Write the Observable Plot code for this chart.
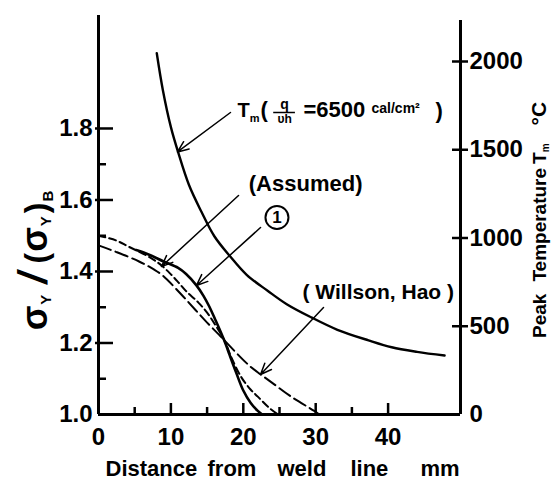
<!DOCTYPE html>
<html><head><meta charset="utf-8">
<script src="https://cdn.jsdelivr.net/npm/d3@7"></script>
<script src="https://cdn.jsdelivr.net/npm/@observablehq/plot@0.6"></script>
<style>body{margin:0;background:#fff} svg{display:block}</style>
</head><body><div id="chart"></div>
<script>
// ---- data ----
const solidX = [5.2, 7, 9, 11, 12.1, 13.5, 14.5, 15.3, 16.2, 17, 17.6, 18.1, 19, 20, 21, 22, 22.6];
const solidY = [1.46, 1.447, 1.428, 1.41, 1.393, 1.362, 1.332, 1.302, 1.262, 1.225, 1.195, 1.167, 1.118, 1.067, 1.033, 1.01, 1.0];
const assumedX = [0, 2.4, 4.2, 6.6, 8.4, 10, 11.1, 12.1, 13.8, 15, 16.3, 17.4, 18.3, 19.7, 21, 22, 23.5, 24.8];
const assumedY = [1.50, 1.487, 1.469, 1.445, 1.422, 1.392, 1.368, 1.345, 1.313, 1.285, 1.245, 1.207, 1.162, 1.105, 1.07, 1.05, 1.02, 1.0];
const willsonX = [0, 2.4, 5.6, 7.7, 8.9, 11.7, 13.5, 15, 16.7, 17.4, 20.7, 22.4, 23.9, 26.6, 29.8, 30.5];
const willsonY = [1.473, 1.455, 1.428, 1.405, 1.388, 1.33, 1.29, 1.257, 1.222, 1.207, 1.139, 1.112, 1.09, 1.05, 1.01, 1.0];
const tmX = [8.05, 8.9, 10, 11, 12.5, 14.2, 16, 18.2, 20.5, 23.4, 26, 29.4, 33, 37.3, 40.5, 44, 47.8];
const tmT = [2047, 1836, 1628, 1486, 1300, 1150, 1010, 895, 790, 700, 625, 550, 480, 420, 381, 355, 334];

const yTickLabels = [1.0, 1.2, 1.4, 1.6, 1.8];
const yTicksMajor = [1.2, 1.4, 1.6, 1.8];
const yTicksMinor = [1.1, 1.3, 1.5, 1.7];
const xTickLabels = [0, 10, 20, 30, 40];
const xTicksMajor = [10, 20, 30, 40];
const xTicksMinor = [5, 15, 25, 35];
const tTicks = [0, 500, 1000, 1500, 2000];

const xLabelWords = ["Distance", "from", "weld", "line", "mm"];
const xLabelAt = [0.97, 15.06, 24.72, 34.8, 44.47];

// ---- layout ----
const W = 553, H = 483, mL = 98, mR = 93, mT = 15, mB = 69;
const xDom = [0, 50], yDom = [1, 2.116];
const kx = (xDom[1] - xDom[0]) / (W - mL - mR);
const ky = (yDom[1] - yDom[0]) / (H - mT - mB);
const tPerPx = 2000 / 353;
const tToY = t => 1 + (t / tPerPx) * ky;

const solid = solidX.map((x, i) => ({x, y: solidY[i]}));
const assumed = assumedX.map((x, i) => ({x, y: assumedY[i]}));
const willson = willsonX.map((x, i) => ({x, y: willsonY[i]}));
const tm = tmX.map((x, i) => ({x, t: tmT[i]}));

// annotations (data units)
const arrows = [
  {x1: 18.23, y1: 1.8447, x2: 10.91, y2: 1.7343},
  {x1: 19.34, y1: 1.6126, x2: 8.70, y2: 1.414},
  {x1: 22.38, y1: 1.523, x2: 13.54, y2: 1.361},
  {x1: 31.08, y1: 1.299, x2: 22.38, y2: 1.112}
];
const notes = [
  {text: "TM(", x: 19.2, y: 1.8503, size: 21, anchor: "start"},
  {text: "q", x: 25.7, y: 1.8671, size: 14, anchor: "middle"},
  {text: "υh", x: 25.7, y: 1.8252, size: 12, anchor: "middle"},
  {text: "=6500", x: 28.3, y: 1.8531, size: 22, anchor: "start"},
  {text: "cal/cm²", x: 37.71, y: 1.8559, size: 14, anchor: "start"},
  {text: ")", x: 46.55, y: 1.8503, size: 22, anchor: "start"},
  {text: "(Assumed)", x: 36.46, y: 1.6462, size: 22, anchor: "end"},
  {text: "1", x: 24.65, y: 1.551, size: 17, anchor: "middle"},
  {text: "( Willson, Hao )", x: 28.18, y: 1.3413, size: 21, anchor: "start"}
];
const fracLine = [{y: 1.8447, x1: 24.2, x2: 27.2}];
const circle = [{x: 24.65, y: 1.551}];

const plot = Plot.plot({
  width: W, height: H,
  marginLeft: mL, marginRight: mR, marginTop: mT, marginBottom: mB,
  x: {domain: xDom, label: null},
  y: {domain: yDom, label: null},
  style: {fontFamily: "'Liberation Sans', Arial, sans-serif", fontWeight: "bold", background: "white", color: "black"},
  marks: [
    // axes frame
    Plot.ruleX([0], {y1: () => yDom[0], y2: () => yDom[1], strokeWidth: 3}),
    Plot.ruleX([50], {y1: () => yDom[0], y2: () => tToY(2232), strokeWidth: 3}),
    Plot.ruleY([1], {x1: () => 0, x2: () => 50, strokeWidth: 3}),
    // ticks
    Plot.ruleY(yTicksMajor, {x1: () => -3 * kx, x2: () => 15 * kx, strokeWidth: 2.5}),
    Plot.ruleY(yTicksMinor, {x1: () => 0, x2: () => 8 * kx, strokeWidth: 2.5}),
    Plot.ruleX(xTicksMajor, {y1: () => 1, y2: () => 1 + 11 * ky, strokeWidth: 2.5}),
    Plot.ruleX(xTicksMinor, {y1: () => 1, y2: () => 1 + 7 * ky, strokeWidth: 2.5}),
    Plot.ruleY(tTicks.slice(1).map(tToY), {x1: () => 50 - 8 * kx, x2: () => 50 + 8 * kx, strokeWidth: 2.5}),
    // tick labels
    Plot.axisY(yTickLabels, {anchor: "left", tickSize: 0, tickPadding: 6, tickFormat: d3.format(".1f"), fontSize: 24, label: null}),
    Plot.axisX(xTickLabels, {anchor: "bottom", tickSize: 0, tickPadding: 13, fontSize: 24, label: null}),
    Plot.axisY(tTicks.map(tToY), {anchor: "right", tickSize: 0, tickPadding: 9, tickFormat: d => String(Math.round((d - 1) / ky * tPerPx)), fontSize: 24, label: null}),
    // curves
    Plot.line(tm, {x: "x", y: d => tToY(d.t), curve: "catmull-rom", strokeWidth: 2.4}),
    Plot.line(solid, {x: "x", y: "y", curve: "catmull-rom", strokeWidth: 2.6}),
    Plot.line(assumed, {x: "x", y: "y", curve: "catmull-rom", strokeWidth: 2, strokeDasharray: "7,4"}),
    Plot.line(willson, {x: "x", y: "y", curve: "catmull-rom", strokeWidth: 2, strokeDasharray: "13,5"}),
    // annotations
    Plot.arrow(arrows, {x1: "x1", y1: "y1", x2: "x2", y2: "y2", strokeWidth: 1.5, headLength: 12, headAngle: 45}),
    Plot.ruleY(fracLine, {y: "y", x1: "x1", x2: "x2", strokeWidth: 1.5}),
    Plot.dot(circle, {x: "x", y: "y", r: 11.5, stroke: "black", strokeWidth: 2}),
    ...notes.map(n => Plot.text([n], {x: "x", y: "y", text: "text", fontSize: n.size, textAnchor: n.anchor, lineAnchor: "middle"})),
    // axis titles
    Plot.text(xLabelWords, {x: (d, i) => xLabelAt[i], y: () => 0.8476, text: d => d, fontSize: 22, textAnchor: "start", lineAnchor: "middle"}),
    Plot.text(["SIGMA"], {x: () => -8.6, y: () => 1.4308, text: d => d, fontSize: 34, rotate: -90, textAnchor: "middle", lineAnchor: "middle"}),
    Plot.text(["PEAKT"], {x: () => 61.0, y: () => 1.5443, text: d => d, fontSize: 19, rotate: -90, textAnchor: "middle", lineAnchor: "middle"})
  ]
});

// rich text (subscripts) built as real tspans
function rich(svg, key, parts) {
  for (const t of svg.querySelectorAll("text")) {
    if (t.textContent === key) {
      t.textContent = "";
      let shift = 0;
      for (const p of parts) {
        const s = document.createElementNS("http://www.w3.org/2000/svg", "tspan");
        s.textContent = p.t;
        const target = p.dy || 0;
        const d = target - shift; shift = target;
        if (d) s.setAttribute("dy", d);
        if (p.dx) s.setAttribute("dx", p.dx);
        if (p.size) s.setAttribute("font-size", p.size);
        if (p.style) s.setAttribute("font-style", p.style);
        t.appendChild(s);
      }
    }
  }
}
rich(plot, "TM(", [{t: "T", size: 20}, {t: "m", size: 11, dy: 5}, {t: "(", size: 22, dy: 0, dx: 1}]);
rich(plot, "SIGMA", [
  {t: "σ", size: 36}, {t: "Y", size: 15, dy: 4, dx: 1},
  {t: "/", size: 40, dy: 0, dx: 11, style: "italic"}, {t: "(", size: 32, dx: 9},
  {t: "σ", size: 36, dx: 1}, {t: "Y", size: 15, dy: 4, dx: 1}, {t: ")", size: 32, dy: 0, dx: 3},
  {t: "B", size: 15, dy: 6, dx: 1}
]);
rich(plot, "PEAKT", [
  {t: "Peak"}, {t: "Temperature", dx: 12}, {t: "T", dx: 4}, {t: "m", size: 10, dy: 3},
  {t: "°C", size: 21, dy: 0, dx: 18}
]);

document.getElementById("chart").appendChild(plot);
</script>
</body></html>
